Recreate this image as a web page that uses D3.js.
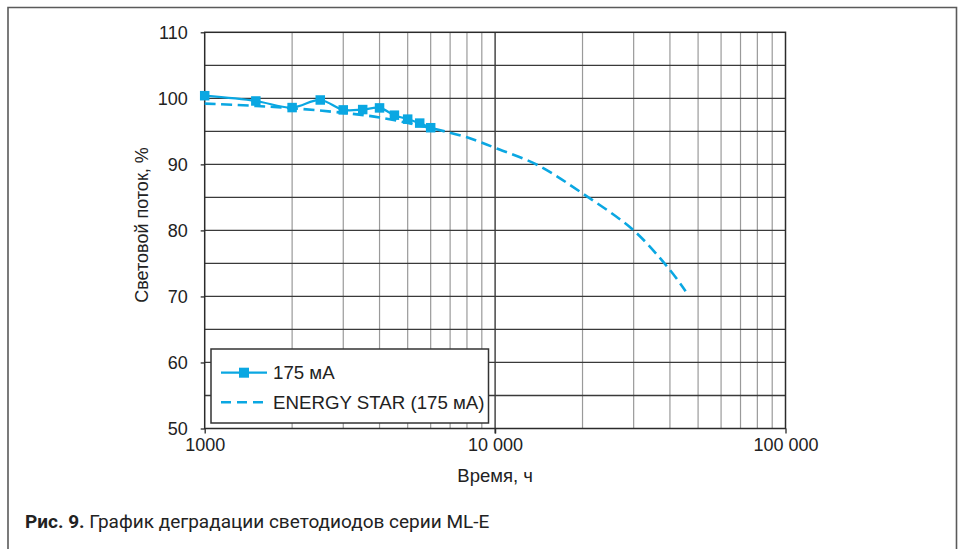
<!DOCTYPE html>
<html>
<head>
<meta charset="utf-8">
<script src="https://cdn.jsdelivr.net/npm/d3@7"></script>
<style>
  html, body { margin: 0; padding: 0; background: #fff; }
  svg { display: block; }
</style>
</head>
<body>
<svg id="chart" width="962" height="549"></svg>
<script>
// ---- data ----
const measuredHours = [1000, 1500, 2000, 2500, 3000, 3500, 4000, 4500, 5000, 5500, 6000];
const measuredFlux  = [100.4, 99.6, 98.6, 99.75, 98.25, 98.3, 98.55, 97.45, 96.85, 96.25, 95.55];

const energyStarHours = [1000, 1500, 2000, 3000, 4000, 6000, 8000, 8860, 10000, 14000, 20000, 30000, 40000, 45300];
const energyStarFlux  = [99.2, 98.85, 98.5, 97.8, 97.1, 95.5, 94.1, 93.4, 92.5, 89.9, 85.6, 80.0, 74.0, 70.8];

const xTickValues = [1000, 10000, 100000];
const xTickLabels = ["1000", "10 000", "100 000"];
const yTickValues = [50, 60, 70, 80, 90, 100, 110];
const yGridValues = [55, 60, 65, 70, 75, 80, 85, 90, 95, 100, 105];
const xMinorGrid  = [2000, 3000, 4000, 5000, 6000, 7000, 8000, 9000,
                     20000, 30000, 40000, 50000, 60000, 70000, 80000, 90000];

const seriesNames = ["175 мА", "ENERGY STAR (175 мА)"];
const xTitle = "Время, ч";
const yTitle = "Световой поток, %";
const captionBold = "Рис. 9.";
const captionText = " График деградации светодиодов серии ML-E";

// ---- drawing ----
const COLOR = "#0aa7e2";
const FONT = "'Liberation Sans', Arial, sans-serif";
const svg = d3.select("#chart");

// outer frame (open at the bottom)
svg.append("path")
  .attr("d", "M8,552 L8,7.5 L956.5,7.5 L956.5,552")
  .attr("fill", "none").attr("stroke", "#5a5a5a").attr("stroke-width", 1.6);

const x = d3.scaleLog().domain([1000, 100000]).range([204.7, 785.5]);
const y = d3.scaleLinear().domain([50, 110]).range([428.5, 32.3]);

const g = svg.append("g");

// minor vertical grid
g.selectAll(".vminor").data(xMinorGrid).join("line")
  .attr("x1", d => x(d)).attr("x2", d => x(d))
  .attr("y1", y(110)).attr("y2", y(50))
  .attr("stroke", "#9a9a9a").attr("stroke-width", 1.2);

// major vertical grid
g.append("line")
  .attr("x1", x(10000)).attr("x2", x(10000))
  .attr("y1", y(110)).attr("y2", y(50) + 5)
  .attr("stroke", "#2b2b2b").attr("stroke-width", 1.3);

// horizontal grid
g.selectAll(".hgrid").data(yGridValues).join("line")
  .attr("x1", x(1000)).attr("x2", x(100000))
  .attr("y1", d => y(d)).attr("y2", d => y(d))
  .attr("stroke", "#3a3a3a").attr("stroke-width", 1.3);

// plot frame
g.append("rect")
  .attr("x", x(1000)).attr("y", y(110))
  .attr("width", x(100000) - x(1000)).attr("height", y(50) - y(110))
  .attr("fill", "none").attr("stroke", "#2b2b2b").attr("stroke-width", 1.5);

// axes
const yAxis = d3.axisLeft(y).tickValues(yTickValues).tickSize(4).tickPadding(13);
const ya = svg.append("g").attr("transform", `translate(${x(1000)},0)`).call(yAxis);
ya.select(".domain").remove();
ya.selectAll(".tick line").attr("stroke", "#2b2b2b").attr("stroke-width", 1.3);
ya.selectAll(".tick text").attr("font-family", FONT).attr("font-size", 18).attr("fill", "#222")
  .attr("dy", "0.36em");

const xAxis = d3.axisBottom(x).tickValues(xTickValues)
  .tickFormat((d, i) => xTickLabels[i]).tickSize(5).tickPadding(5);
const xa = svg.append("g").attr("transform", `translate(0,${y(50)})`).call(xAxis);
xa.select(".domain").remove();
xa.selectAll(".tick line").attr("stroke", "#2b2b2b").attr("stroke-width", 1.3);
xa.selectAll(".tick text").attr("font-family", FONT).attr("font-size", 18).attr("fill", "#222");

// axis titles
svg.append("text").text(xTitle)
  .attr("x", (x(1000) + x(100000)) / 2).attr("y", 482)
  .attr("text-anchor", "middle").attr("font-family", FONT).attr("font-size", 18.5).attr("fill", "#222");
svg.append("text").text(yTitle)
  .attr("transform", "translate(148,225) rotate(-90)")
  .attr("text-anchor", "middle").attr("font-family", FONT).attr("font-size", 18).attr("fill", "#222");

// series
const esData = energyStarHours.map((h, i) => [h, energyStarFlux[i]]);
const mData = measuredHours.map((h, i) => [h, measuredFlux[i]]);

const lineGen = d3.line().x(d => x(d[0])).y(d => y(d[1])).curve(d3.curveCatmullRom.alpha(0.5));

svg.append("path").datum(esData).attr("d", lineGen)
  .attr("fill", "none").attr("stroke", COLOR).attr("stroke-width", 2.6)
  .attr("stroke-dasharray", "11,5.5");

svg.append("path").datum(mData).attr("d", lineGen)
  .attr("fill", "none").attr("stroke", COLOR).attr("stroke-width", 2.2);

const MS = 9.5;
svg.selectAll(".mk").data(mData).join("rect")
  .attr("x", d => x(d[0]) - MS / 2).attr("y", d => y(d[1]) - MS / 2)
  .attr("width", MS).attr("height", MS).attr("fill", COLOR);

// legend
const lg = svg.append("g");
lg.append("rect").attr("x", 211).attr("y", 349).attr("width", 277.5).attr("height", 74)
  .attr("fill", "#fff").attr("stroke", "#333").attr("stroke-width", 1.5);
lg.append("line").attr("x1", 221).attr("x2", 267).attr("y1", 372.7).attr("y2", 372.7)
  .attr("stroke", COLOR).attr("stroke-width", 2.2);
lg.append("rect").attr("x", 244 - 5).attr("y", 372.7 - 5).attr("width", 10).attr("height", 10).attr("fill", COLOR);
lg.append("line").attr("x1", 221).attr("x2", 267).attr("y1", 402.3).attr("y2", 402.3)
  .attr("stroke", COLOR).attr("stroke-width", 2.6).attr("stroke-dasharray", "10,6");
lg.append("text").text(seriesNames[0]).attr("x", 273).attr("y", 379)
  .attr("font-family", FONT).attr("font-size", 18.7).attr("fill", "#222");
lg.append("text").text(seriesNames[1]).attr("x", 273).attr("y", 408.5)
  .attr("font-family", FONT).attr("font-size", 18.7).attr("fill", "#222");

// caption
const cap = svg.append("text").attr("x", 25).attr("y", 528)
  .attr("font-family", "Roboto, 'Noto Sans', sans-serif").attr("font-size", 19).attr("fill", "#222");
cap.append("tspan").text(captionBold).attr("font-weight", "bold");
cap.append("tspan").text(captionText);
</script>
</body>
</html>
